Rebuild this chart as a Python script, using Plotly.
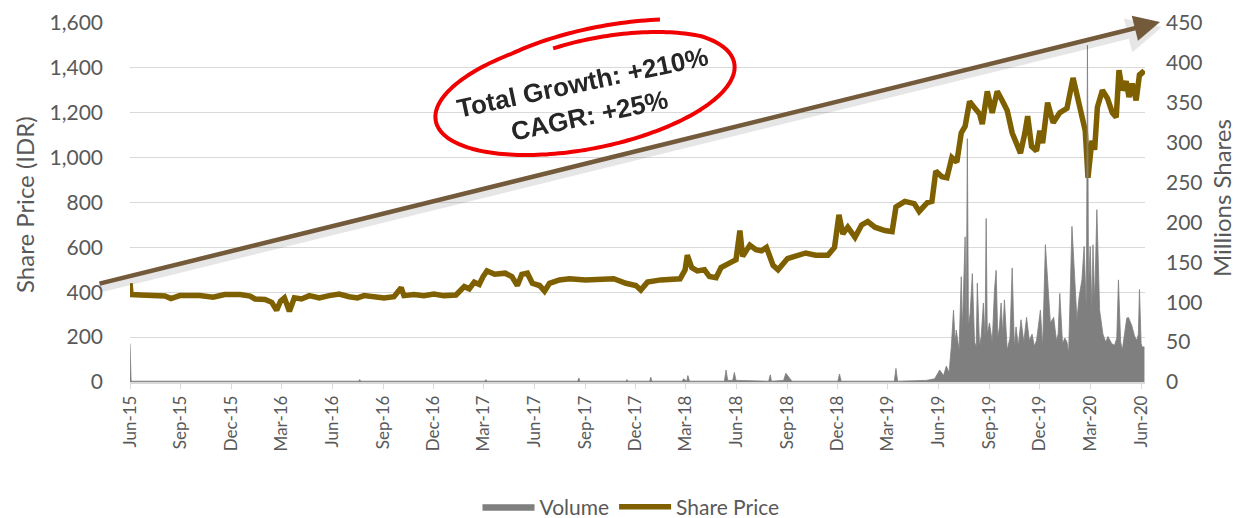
import numpy as np
import plotly.graph_objects as go

# ---------------- data ----------------
price_dates = [
    "2015-06-01", "2015-06-03", "2015-06-20", "2015-07-07", "2015-08-03", "2015-08-14", "2015-08-30",
    "2015-10-05", "2015-10-29", "2015-11-19", "2015-12-17", "2016-01-04", "2016-01-13", "2016-01-31",
    "2016-02-12", "2016-02-21", "2016-02-28", "2016-03-06", "2016-03-15", "2016-03-24", "2016-04-06",
    "2016-04-20", "2016-05-08", "2016-05-26", "2016-06-13", "2016-07-01", "2016-07-16", "2016-07-28",
    "2016-08-15", "2016-09-02", "2016-09-20", "2016-10-03", "2016-10-08", "2016-10-26", "2016-11-13",
    "2016-12-01", "2016-12-19", "2017-01-10", "2017-01-25", "2017-02-03", "2017-02-12", "2017-02-21",
    "2017-02-28", "2017-03-07", "2017-03-21", "2017-04-09", "2017-04-21", "2017-05-01", "2017-05-09",
    "2017-05-19", "2017-05-28", "2017-06-10", "2017-06-19", "2017-06-28", "2017-07-16", "2017-08-03",
    "2017-09-01", "2017-09-28", "2017-10-22", "2017-11-13", "2017-12-01", "2017-12-10", "2017-12-22",
    "2018-01-15", "2018-02-05", "2018-02-19", "2018-02-28", "2018-03-04", "2018-03-12", "2018-03-22",
    "2018-04-04", "2018-04-13", "2018-04-25", "2018-05-04", "2018-05-19", "2018-05-31", "2018-06-07",
    "2018-06-12", "2018-06-25", "2018-07-06", "2018-07-16", "2018-07-25", "2018-08-06", "2018-08-15",
    "2018-09-01", "2018-09-16", "2018-10-04", "2018-10-22", "2018-11-13", "2018-11-25", "2018-12-03",
    "2018-12-10", "2018-12-19", "2019-01-01", "2019-01-13", "2019-01-24", "2019-02-06", "2019-02-24",
    "2019-03-09", "2019-03-16", "2019-04-01", "2019-04-18", "2019-04-27", "2019-05-12", "2019-05-20",
    "2019-05-27", "2019-06-07", "2019-06-16", "2019-06-25", "2019-07-04", "2019-07-12", "2019-07-19",
    "2019-07-27", "2019-08-04", "2019-08-14", "2019-08-19", "2019-08-28", "2019-09-06", "2019-09-15",
    "2019-09-24", "2019-10-03", "2019-10-12", "2019-10-22", "2019-10-27", "2019-11-04", "2019-11-09",
    "2019-11-16", "2019-11-25", "2019-12-01", "2019-12-06", "2019-12-15", "2019-12-25", "2020-01-06",
    "2020-01-19", "2020-01-30", "2020-02-06", "2020-02-15", "2020-02-21", "2020-02-26", "2020-03-04",
    "2020-03-09", "2020-03-14", "2020-03-23", "2020-04-01", "2020-04-10", "2020-04-17", "2020-04-22",
    "2020-04-28", "2020-05-05", "2020-05-10", "2020-05-16", "2020-05-23", "2020-05-29", "2020-06-03",
    "2020-06-07",
]
price_values = [
    440, 390, 388, 385, 383, 372, 385,
    385, 378, 390, 390, 383, 370, 368,
    355, 320, 360, 375, 315, 375, 370,
    385, 375, 385, 392, 380, 375, 385,
    380, 375, 380, 420, 385, 390, 385,
    392, 385, 388, 425, 415, 445, 435,
    470, 495, 480, 485, 470, 430, 480,
    485, 440, 430, 405, 440, 455, 460,
    455, 455, 460, 440, 430, 410, 445,
    455, 460, 460, 500, 565, 510, 495,
    500, 470, 465, 510, 530, 545, 675,
    560, 610, 590, 585, 600, 520, 500,
    550, 560, 575, 565, 565, 600, 745,
    660, 690, 645, 700, 715, 690, 675,
    670, 780, 805, 795, 760, 800, 805,
    940, 915, 910, 1000, 980, 1110, 1140,
    1250, 1225, 1195, 1150, 1295, 1200, 1295,
    1255, 1210, 1110, 1040, 1020, 1110, 1185,
    1050, 1030, 1120, 1065, 1245, 1155, 1200,
    1220, 1355, 1280, 1210, 1120, 910, 1075,
    1035, 1225, 1300, 1265, 1200, 1180, 1390,
    1300, 1340, 1270, 1330, 1255, 1370, 1380,
    1370,
]

vol_dates = [
    "2015-06-01", "2015-06-03", "2016-07-18", "2016-07-20", "2016-07-22", "2017-03-03", "2017-03-05",
    "2017-03-07", "2017-08-18", "2017-08-20", "2017-08-22", "2017-11-13", "2017-11-15", "2017-11-17",
    "2017-12-26", "2017-12-28", "2017-12-30", "2018-02-23", "2018-02-25", "2018-03-03", "2018-03-05",
    "2018-03-08", "2018-05-10", "2018-05-13", "2018-05-16", "2018-05-25", "2018-05-28", "2018-05-31",
    "2018-07-29", "2018-08-01", "2018-08-03", "2018-08-25", "2018-08-29", "2018-09-06", "2018-09-09",
    "2018-12-01", "2018-12-04", "2018-12-07", "2019-03-13", "2019-03-16", "2019-03-19", "2019-05-10",
    "2019-05-25", "2019-06-03", "2019-06-10", "2019-06-15", "2019-06-20", "2019-06-24", "2019-06-28",
    "2019-07-01", "2019-07-03", "2019-07-08", "2019-07-12", "2019-07-14", "2019-07-19", "2019-07-21",
    "2019-07-23", "2019-07-25", "2019-07-28", "2019-08-01", "2019-08-05", "2019-08-08", "2019-08-10",
    "2019-08-14", "2019-08-17", "2019-08-21", "2019-08-24", "2019-08-26", "2019-08-28", "2019-09-01",
    "2019-09-06", "2019-09-10", "2019-09-13", "2019-09-16", "2019-09-19", "2019-09-22", "2019-09-25",
    "2019-09-28", "2019-10-03", "2019-10-08", "2019-10-12", "2019-10-16", "2019-10-19", "2019-10-23",
    "2019-10-28", "2019-11-02", "2019-11-07", "2019-11-12", "2019-11-17", "2019-11-21", "2019-11-25",
    "2019-12-02", "2019-12-06", "2019-12-11", "2019-12-15", "2019-12-20", "2019-12-26", "2019-12-31",
    "2020-01-03", "2020-01-06", "2020-01-11", "2020-01-15", "2020-01-19", "2020-01-22", "2020-01-28",
    "2020-02-01", "2020-02-06", "2020-02-10", "2020-02-15", "2020-02-19", "2020-02-23", "2020-02-25",
    "2020-02-27", "2020-03-01", "2020-03-04", "2020-03-06", "2020-03-09", "2020-03-13", "2020-03-18",
    "2020-03-24", "2020-03-29", "2020-04-02", "2020-04-09", "2020-04-14", "2020-04-18", "2020-04-21",
    "2020-04-25", "2020-04-28", "2020-05-03", "2020-05-06", "2020-05-09", "2020-05-15", "2020-05-20",
    "2020-05-24", "2020-05-27", "2020-05-29", "2020-06-01", "2020-06-03", "2020-06-07",
]
vol_values = [
    48, 1, 1, 3, 1, 1, 3,
    1, 1, 5, 1, 1, 3, 1,
    1, 6, 1, 1, 4, 1, 8,
    1, 1, 15, 2, 2, 12, 2,
    1, 9, 1, 2, 11, 3, 1,
    1, 10, 1, 1, 17, 1, 2,
    4, 15, 8, 20, 12, 44, 90,
    50, 65, 40, 132, 65, 182, 60,
    305, 70, 86, 136, 50, 44, 124,
    45, 57, 99, 55, 205, 60, 74,
    50, 115, 140, 55, 69, 99, 60,
    103, 40, 55, 143, 44, 69, 45,
    78, 50, 81, 52, 60, 45, 52,
    90, 44, 172, 124, 74, 81, 52,
    60, 111, 48, 55, 50, 36, 195,
    145, 78, 107, 128, 170, 90, 422,
    120, 170, 90, 172, 100, 216, 90,
    60, 50, 57, 48, 46, 55, 128,
    50, 40, 65, 80, 81, 71, 58,
    52, 60, 116, 48, 44, 44,
]

price_ticks = [0, 200, 400, 600, 800, 1000, 1200, 1400, 1600]
volume_ticks = [0, 50, 100, 150, 200, 250, 300, 350, 400, 450]

# ---------------- layout geometry ----------------
W, H = 1240, 518
L, R, T, B = 130, 95, 23, 136
PW, PH = W - L - R, H - T - B


def fx(x):
    return (x - L) / PW


def fy(y):
    return (H - B - y) / PH


GRAY_TXT = "#595959"
FONT = "Lato"

fig = go.Figure()
fig.add_trace(go.Scatter(
    x=vol_dates, y=vol_values, name="Volume", yaxis="y2", mode="lines",
    line=dict(color="#7F7F7F", width=0.8), fill="tozeroy", fillcolor="#7F7F7F",
))
fig.add_trace(go.Scatter(
    x=price_dates, y=price_values, name="Share Price", mode="lines",
    line=dict(color="#7F6000", width=5.5),
))

# hand-drawn red ellipse
cx, cy, a, b, ang = 585, 92, 152, 57, np.radians(11)
thd = np.linspace(60, 460, 240)
th = np.radians(thd)
s = np.interp(thd, [60, 115, 395, 460], [1.15, 1.0, 1.0, 0.87])
u = a * s * np.cos(th)
v = -b * s * np.sin(th)
X = cx + u * np.cos(ang) + v * np.sin(ang)
Y = cy - u * np.sin(ang) + v * np.cos(ang)
path = "M " + " L ".join(f"{fx(xx):.5f},{fy(yy):.5f}" for xx, yy in zip(X, Y))

shapes = [dict(type="path", xref="paper", yref="paper", path=path,
               line=dict(color="#F00000", width=4))]

head = (1160, 22)
tail = (98, 284)
annotations = [
    # arrow shadow
    dict(xref="paper", yref="paper", x=fx(head[0] + 2), y=fy(head[1] + 5), text="",
         showarrow=True, ax=tail[0] - head[0], ay=tail[1] - head[1],
         arrowcolor="rgba(0,0,0,0.10)", arrowwidth=7, arrowhead=2, arrowsize=1.0,
         standoff=0, startstandoff=0),
    dict(xref="paper", yref="paper", x=fx(head[0]), y=fy(head[1]), text="",
         showarrow=True, ax=tail[0] - head[0], ay=tail[1] - head[1],
         arrowcolor="#735A3B", arrowwidth=4.5, arrowhead=2, arrowsize=1.15,
         standoff=0, startstandoff=0),
    dict(xref="paper", yref="paper", x=fx(586), y=fy(99), showarrow=False,
         text="<b>Total Growth: +210%<br>CAGR: +25%</b>", textangle=-12,
         font=dict(family="Liberation Sans", size=26, color="#262626"),
         xanchor="center", yanchor="middle"),
    dict(xref="paper", yref="paper", x=fx(24), y=fy(205), showarrow=False,
         text="Share Price (IDR)", textangle=-90,
         font=dict(family=FONT, size=24, color=GRAY_TXT), xanchor="center", yanchor="middle"),
    dict(xref="paper", yref="paper", x=fx(1221), y=fy(198), showarrow=False,
         text="Millions Shares", textangle=-90,
         font=dict(family=FONT, size=24, color=GRAY_TXT), xanchor="center", yanchor="middle"),
]

fig.update_layout(
    width=W, height=H,
    margin=dict(l=L, r=R, t=T, b=B, pad=0, autoexpand=False),
    paper_bgcolor="white", plot_bgcolor="white",
    font=dict(family=FONT, size=20, color=GRAY_TXT),
    showlegend=True,
    legend=dict(orientation="h", xref="container", yref="container",
                x=631 / W, xanchor="center", y=1 - 507 / H, yanchor="middle",
                font=dict(family=FONT, size=21, color=GRAY_TXT), itemwidth=52,
                traceorder="normal"),
    xaxis=dict(
        type="date", range=["2015-06-01", "2020-06-08"], automargin=False,
        tick0="2015-06-01", dtick="M3", tickformat="%b-%y", tickangle=-90,
        showgrid=False, showline=True, linecolor="#D9D9D9", linewidth=1.5,
        ticks="outside", ticklen=5, tickcolor="#D9D9D9",
        tickfont=dict(family=FONT, size=17, color=GRAY_TXT), zeroline=False,
    ),
    yaxis=dict(
        range=[0, 1600], tickvals=price_ticks, tickformat=",", automargin=False,
        showgrid=True, gridcolor="#D9D9D9", gridwidth=1.3, zeroline=False,
        tickfont=dict(family=FONT, size=21, color=GRAY_TXT), ticklabelstandoff=26,
    ),
    yaxis2=dict(
        range=[0, 450], tickvals=volume_ticks, overlaying="y", side="right",
        showgrid=False, zeroline=False, automargin=False,
        tickfont=dict(family=FONT, size=21, color=GRAY_TXT), ticklabelstandoff=20,
    ),
    shapes=shapes,
    annotations=annotations,
)

fig.write_html("out.html", config={"displayModeBar": False},
               post_script="document.body.style.margin='0px';")
